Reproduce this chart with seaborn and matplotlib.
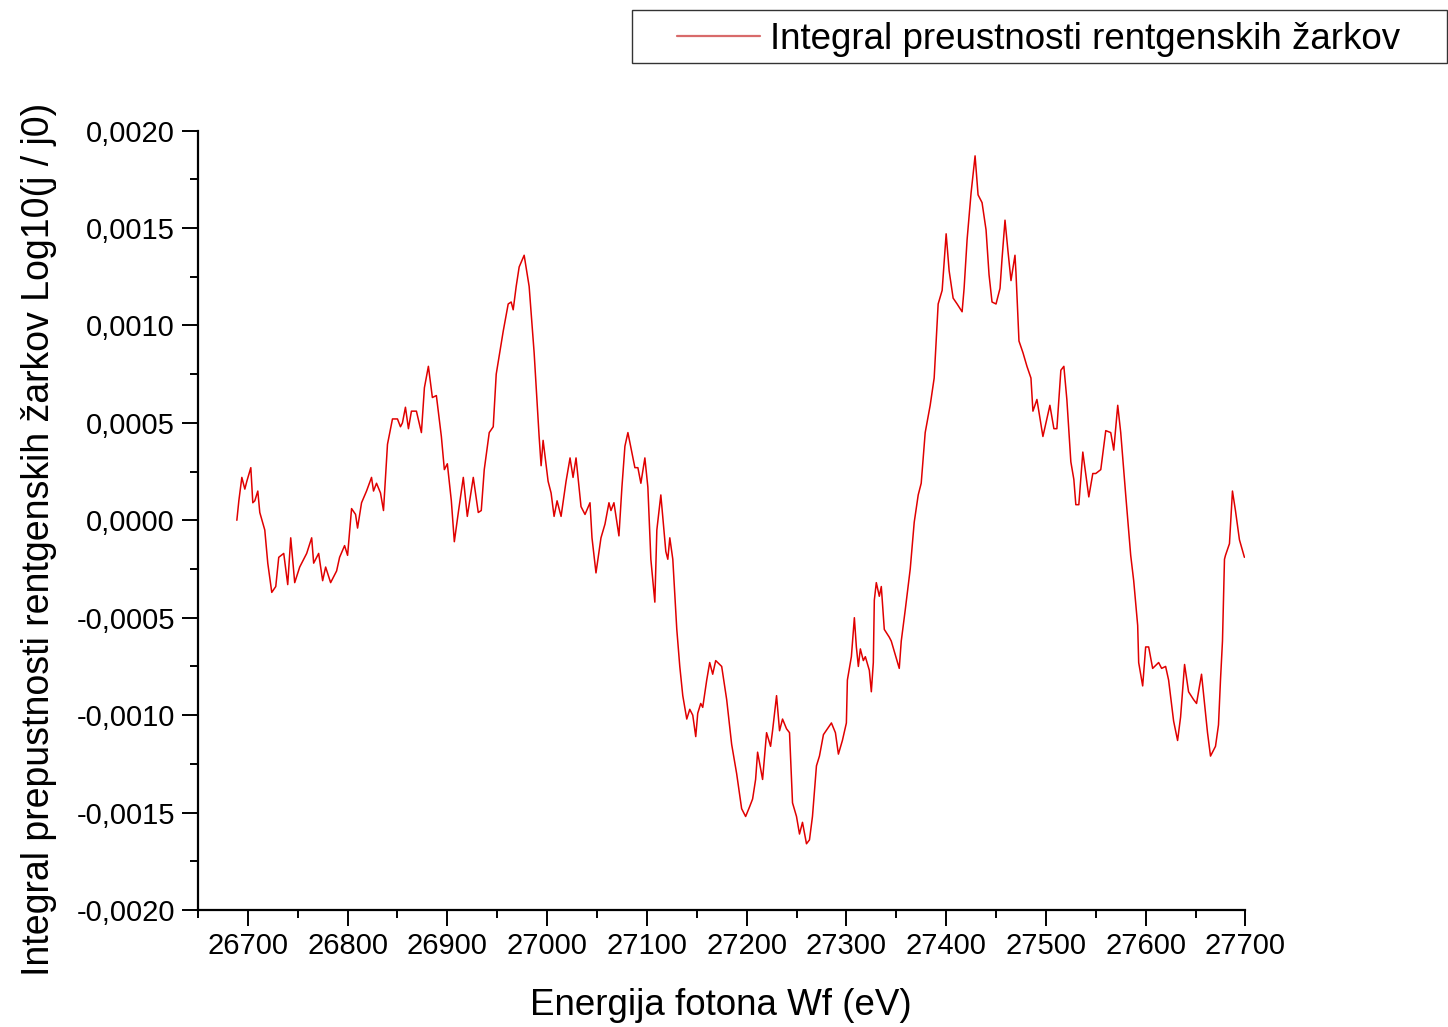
import numpy as np
import pandas as pd
import seaborn as sns
import matplotlib.pyplot as plt
from matplotlib.ticker import MultipleLocator, FuncFormatter
from matplotlib.patches import Rectangle

# photon energy (eV) and integral of X-ray transmission
energy = [
    26689, 26691, 26694, 26697, 26699, 26703, 26705, 26707, 26710, 26712,
    26717, 26720, 26724, 26728, 26731, 26736, 26740, 26743, 26747, 26752,
    26759, 26764, 26766, 26771, 26775, 26778, 26783, 26789, 26792, 26797,
    26800, 26804, 26808, 26810, 26814, 26819, 26824, 26826, 26829, 26833,
    26836, 26840, 26845, 26850, 26853, 26855, 26858, 26861, 26864, 26869,
    26874, 26877, 26881, 26885, 26889, 26894, 26897, 26900, 26904, 26907,
    26911, 26916, 26920, 26926, 26931, 26934, 26937, 26942, 26946, 26949,
    26956, 26961, 26964, 26966, 26969, 26972, 26977, 26982, 26987, 26992,
    26994, 26996, 27001, 27004, 27007, 27010, 27014, 27019, 27023, 27026,
    27029, 27034, 27038, 27043, 27045, 27049, 27054, 27058, 27062, 27064,
    27067, 27072, 27075, 27078, 27081, 27088, 27091, 27094, 27098, 27101,
    27104, 27108, 27110, 27114, 27119, 27121, 27123, 27126, 27130, 27133,
    27136, 27140, 27143, 27146, 27149, 27151, 27154, 27156, 27160, 27163,
    27166, 27169, 27175, 27180, 27185, 27190, 27195, 27199, 27203, 27206,
    27209, 27211, 27216, 27220, 27224, 27226, 27230, 27233, 27236, 27240,
    27243, 27246, 27250, 27253, 27256, 27260, 27263, 27266, 27270, 27273,
    27277, 27281, 27285, 27289, 27292, 27296, 27300, 27301, 27305, 27308,
    27310, 27312, 27314, 27317, 27319, 27323, 27325, 27327, 27328, 27330,
    27333, 27335, 27338, 27343, 27345, 27349, 27353, 27355, 27359, 27364,
    27368, 27372, 27375, 27379, 27384, 27388, 27392, 27396, 27400, 27403,
    27407, 27411, 27416, 27418, 27421, 27425, 27429, 27432, 27436, 27440,
    27443, 27446, 27450, 27454, 27456, 27459, 27462, 27465, 27469, 27470,
    27473, 27477, 27481, 27485, 27487, 27491, 27497, 27504, 27508, 27511,
    27515, 27518, 27521, 27525, 27528, 27530, 27533, 27537, 27543, 27547,
    27550, 27555, 27560, 27565, 27568, 27572, 27575, 27580, 27585, 27588,
    27592, 27593, 27597, 27600, 27603, 27607, 27613, 27616, 27620, 27623,
    27628, 27632, 27635, 27639, 27643, 27648, 27651, 27656, 27659, 27662,
    27665, 27670, 27673, 27675, 27677, 27679, 27680, 27684, 27687, 27690,
    27694, 27699,
]
transmission = [
    0.0, 0.00010, 0.00022, 0.00016, 0.00020, 0.00027, 0.00009, 0.00010, 0.00015, 0.00004,
    -0.00005, -0.00022, -0.00037, -0.00034, -0.00019, -0.00017, -0.00033, -0.00009, -0.00032, -0.00024,
    -0.00017, -0.00009, -0.00022, -0.00017, -0.00031, -0.00024, -0.00032, -0.00026, -0.00019, -0.00013,
    -0.00018, 0.00006, 0.00003, -0.00004, 0.00009, 0.00015, 0.00022, 0.00015, 0.00019, 0.00014,
    0.00005, 0.00039, 0.00052, 0.00052, 0.00048, 0.00050, 0.00058, 0.00047, 0.00056, 0.00056,
    0.00045, 0.00068, 0.00079, 0.00063, 0.00064, 0.00043, 0.00026, 0.00029, 0.00010, -0.00011,
    0.00004, 0.00022, 0.00002, 0.00022, 0.00004, 0.00005, 0.00026, 0.00045, 0.00048, 0.00075,
    0.00097, 0.00111, 0.00112, 0.00108, 0.00120, 0.00130, 0.00136, 0.00120, 0.00086, 0.00043,
    0.00028, 0.00041, 0.00020, 0.00014, 0.00002, 0.00010, 0.00002, 0.00020, 0.00032, 0.00022,
    0.00032, 0.00007, 0.00003, 0.00009, -0.00009, -0.00027, -0.00009, -0.00002, 0.00009, 0.00005,
    0.00009, -0.00008, 0.00017, 0.00038, 0.00045, 0.00027, 0.00027, 0.00019, 0.00032, 0.00017,
    -0.00020, -0.00042, -0.00005, 0.00013, -0.00016, -0.00020, -0.00009, -0.00020, -0.00056, -0.00075,
    -0.00090, -0.00102, -0.00097, -0.00100, -0.00111, -0.00099, -0.00094, -0.00096, -0.00082, -0.00073,
    -0.00079, -0.00072, -0.00075, -0.00092, -0.00115, -0.00130, -0.00148, -0.00152, -0.00147, -0.00143,
    -0.00133, -0.00119, -0.00133, -0.00109, -0.00116, -0.00108, -0.00090, -0.00108, -0.00102, -0.00107,
    -0.00109, -0.00145, -0.00152, -0.00161, -0.00155, -0.00166, -0.00164, -0.00152, -0.00126, -0.00121,
    -0.00110, -0.00107, -0.00104, -0.00109, -0.00120, -0.00113, -0.00104, -0.00082, -0.00070, -0.00050,
    -0.00065, -0.00075, -0.00066, -0.00072, -0.00070, -0.00077, -0.00088, -0.00073, -0.00041, -0.00032,
    -0.00039, -0.00034, -0.00056, -0.00060, -0.00062, -0.00069, -0.00076, -0.00062, -0.00046, -0.00025,
    -0.00001, 0.00013, 0.00019, 0.00045, 0.00059, 0.00073, 0.00111, 0.00118, 0.00147, 0.00128,
    0.00114, 0.00111, 0.00107, 0.00119, 0.00144, 0.00168, 0.00187, 0.00167, 0.00163, 0.00149,
    0.00126, 0.00112, 0.00111, 0.00119, 0.00134, 0.00154, 0.00138, 0.00123, 0.00136, 0.00127,
    0.00092, 0.00086, 0.00079, 0.00073, 0.00056, 0.00062, 0.00043, 0.00059, 0.00047, 0.00047,
    0.00077, 0.00079, 0.00062, 0.00030, 0.00021, 0.00008, 0.00008, 0.00035, 0.00012, 0.00024,
    0.00024, 0.00026, 0.00046, 0.00045, 0.00036, 0.00059, 0.00045, 0.00013, -0.00018, -0.00031,
    -0.00054, -0.00073, -0.00085, -0.00065, -0.00065, -0.00076, -0.00073, -0.00076, -0.00075, -0.00082,
    -0.00103, -0.00113, -0.00101, -0.00074, -0.00088, -0.00092, -0.00094, -0.00079, -0.00094, -0.00109,
    -0.00121, -0.00116, -0.00105, -0.00082, -0.00062, -0.00020, -0.00018, -0.00012, 0.00015, 0.00005,
    -0.00010, -0.00019,
]

series_label = "Integral preustnosti rentgenskih žarkov"
x_label = "Energija fotona Wf (eV)"
y_label = "Integral prepustnosti rentgenskih žarkov Log10(j / j0)"

df = pd.DataFrame({"energy": energy, "transmission": transmission})

sns.set_style("ticks")
plt.rcParams["font.family"] = ["Liberation Sans", "DejaVu Sans"]
plt.rcParams["text.color"] = "black"
plt.rcParams["axes.labelcolor"] = "black"

fig = plt.figure(figsize=(14.48, 10.27), dpi=100)
ax = fig.add_axes([0.1367, 0.1139, 0.7234, 0.7590])

sns.lineplot(data=df, x="energy", y="transmission", ax=ax, color="#e00000",
             linewidth=1.1, label=series_label, legend=False)

ax.set_xlim(26650, 27700)
ax.set_ylim(-0.002, 0.002)
ax.xaxis.set_major_locator(MultipleLocator(100))
ax.xaxis.set_minor_locator(MultipleLocator(50))
ax.yaxis.set_major_locator(MultipleLocator(0.0005))
ax.yaxis.set_minor_locator(MultipleLocator(0.00025))
ax.yaxis.set_major_formatter(FuncFormatter(lambda v, p: f"{v:.4f}".replace(".", ",").replace("-0,0000", "0,0000")))

for side in ["top", "right"]:
    ax.spines[side].set_visible(False)
for side in ["left", "bottom"]:
    ax.spines[side].set_linewidth(1.6)
    ax.spines[side].set_color("black")

ax.tick_params(which="major", direction="out", length=11.5, width=1.4, labelsize=21, colors="black")
ax.tick_params(which="minor", direction="out", length=5.8, width=1.4, colors="black")
ax.tick_params(axis="x", which="major", pad=4)
ax.tick_params(axis="y", which="major", pad=5)

ax.set_xlabel(x_label, fontsize=26.5)
ax.set_ylabel(y_label, fontsize=27)
ax.xaxis.set_label_coords(0.499, -0.122)
ax.xaxis.label.set_va("center")
ax.yaxis.set_label_coords(-0.152, 0.476)
ax.yaxis.label.set_va("center")

# legend box in the top right corner
fig.patches.append(Rectangle((632 / 1448, 1 - 63 / 1027), 815 / 1448, 53 / 1027,
                             transform=fig.transFigure, fill=False,
                             edgecolor="#333333", linewidth=1.0))
handles, labels = ax.get_legend_handles_labels()
leg = fig.legend(handles, labels, loc="center left",
                 bbox_to_anchor=(677 / 1448, 1 - 39.5 / 1027),
                 frameon=False, borderpad=0, borderaxespad=0,
                 handlelength=2.25, handletextpad=0.27, fontsize=26.5)
for h in leg.legend_handles:
    h.set_color("#d86a6a")
    h.set_linewidth(1.6)

fig.savefig("out.png", dpi=100)
